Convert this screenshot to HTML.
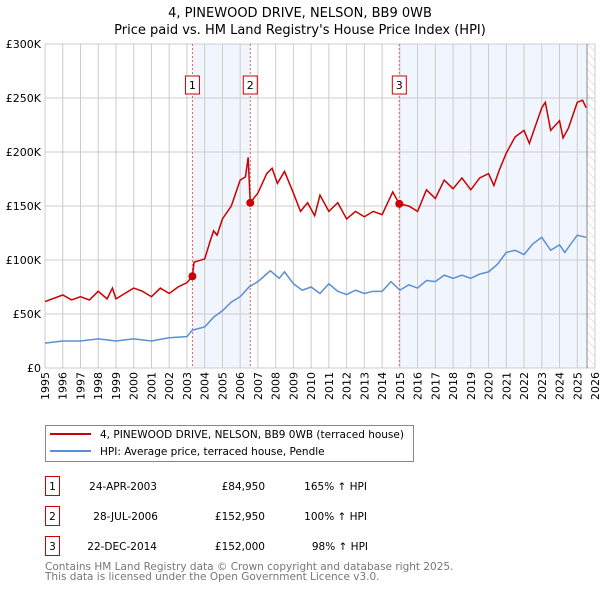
<!DOCTYPE html>
<html><head><meta charset="utf-8"><style>
body{margin:0;background:#fff;font-family:"Liberation Sans","DejaVu Sans",sans-serif;}
svg text{font-family:"DejaVu Sans","Liberation Sans",sans-serif;}
</style></head><body>
<svg id="chart" width="600" height="590" viewBox="0 0 600 590" xmlns="http://www.w3.org/2000/svg">
<defs><pattern id="hatch" width="6" height="6" patternUnits="userSpaceOnUse" patternTransform="rotate(-45)"><line x1="0" y1="0" x2="0" y2="6" stroke="#ccc" stroke-width="1"/></pattern></defs>
<text x="300" y="17" text-anchor="middle" font-size="13">4, PINEWOOD DRIVE, NELSON, BB9 0WB</text>
<text x="300" y="34" text-anchor="middle" font-size="13">Price paid vs. HM Land Registry's House Price Index (HPI)</text>
<g id="plot"></g>
<g>
<rect x="45.5" y="425.5" width="368" height="36" fill="#fff" stroke="#888"/>
<line x1="50" y1="434" x2="91" y2="434" stroke="#cc0000" stroke-width="2"/>
<text x="100" y="438" font-size="10.5">4, PINEWOOD DRIVE, NELSON, BB9 0WB (terraced house)</text>
<line x1="50" y1="451" x2="91" y2="451" stroke="#5b8fd4" stroke-width="2"/>
<text x="100" y="455" font-size="10.5">HPI: Average price, terraced house, Pendle</text>
</g>
<g font-size="10.5">
<rect x="45.5" y="476.5" width="14" height="19" fill="#fff" stroke="#cc0000"/><text x="52.5" y="490" text-anchor="middle">1</text>
<text x="157" y="490" text-anchor="end">24-APR-2003</text><text x="265" y="490" text-anchor="end">£84,950</text><text x="367" y="490" text-anchor="end">165% ↑ HPI</text>
<rect x="45.5" y="506.5" width="14" height="19" fill="#fff" stroke="#cc0000"/><text x="52.5" y="520" text-anchor="middle">2</text>
<text x="158" y="520" text-anchor="end">28-JUL-2006</text><text x="265" y="520" text-anchor="end">£152,950</text><text x="367" y="520" text-anchor="end">100% ↑ HPI</text>
<rect x="45.5" y="536.5" width="14" height="19" fill="#fff" stroke="#cc0000"/><text x="52.5" y="550" text-anchor="middle">3</text>
<text x="157" y="550" text-anchor="end">22-DEC-2014</text><text x="265" y="550" text-anchor="end">£152,000</text><text x="368" y="550" text-anchor="end">98% ↑ HPI</text>
</g>
<text x="45" y="570" font-size="10.5" fill="#777">Contains HM Land Registry data © Crown copyright and database right 2025.</text>
<text x="45" y="580" font-size="10.5" fill="#777">This data is licensed under the Open Government Licence v3.0.</text>
</svg>
<script>
const yearTicks=[1995,1996,1997,1998,1999,2000,2001,2002,2003,2004,2005,2006,2007,2008,2009,2010,2011,2012,2013,2014,2015,2016,2017,2018,2019,2020,2021,2022,2023,2024,2025,2026];
const valueTicks=[0,50000,100000,150000,200000,250000,300000];
const valueTickLabels=["£0","£50K","£100K","£150K","£200K","£250K","£300K"];
const hpiYears=[1995,1996,1997,1998,1999,2000,2001,2002,2003,2003.3,2004,2004.5,2005,2005.5,2006,2006.5,2007,2007.7,2008.2,2008.5,2009,2009.5,2010,2010.5,2011,2011.5,2012,2012.5,2013,2013.5,2014,2014.5,2015,2015.5,2016,2016.5,2017,2017.5,2018,2018.5,2019,2019.5,2020,2020.5,2021,2021.5,2022,2022.5,2023,2023.5,2024,2024.3,2024.6,2025,2025.5];
const hpiValues=[23000,25000,25000,27000,25000,27000,25000,28000,29000,35000,38000,47000,53000,61000,66000,75000,80000,90000,83000,89000,78000,72000,75000,69000,78000,71000,68000,72000,69000,71000,71000,80000,72000,77000,74000,81000,80000,86000,83000,86000,83000,87000,89000,96000,107000,109000,105000,115000,121000,109000,114000,107000,114000,123000,121000];
const priceYears=[1995,1996,1996.5,1997,1997.5,1998,1998.5,1998.8,1999,2000,2000.5,2001,2001.5,2002,2002.5,2003,2003.31,2003.4,2004,2004.3,2004.5,2004.7,2005,2005.5,2006,2006.3,2006.45,2006.57,2007,2007.5,2007.8,2008.1,2008.5,2009,2009.4,2009.8,2010.2,2010.5,2011,2011.5,2012,2012.5,2013,2013.5,2014,2014.6,2014.97,2015.5,2016,2016.5,2017,2017.5,2018,2018.5,2019,2019.5,2020,2020.3,2020.6,2021,2021.5,2022,2022.3,2023,2023.2,2023.5,2024,2024.2,2024.5,2025,2025.3,2025.5];
const priceValues=[61500,67600,63000,66000,63000,71000,64000,74000,64000,74000,71000,66000,74000,69000,75000,79000,84950,98000,101000,117000,127000,123000,138000,150000,174000,177000,195000,152950,162000,180000,185000,171000,182000,162000,145000,153000,141000,160000,145000,153000,138000,145000,140000,145000,142000,163000,152000,150000,145000,165000,157000,174000,166000,176000,165000,176000,180000,169000,183000,199000,214000,220000,208000,241000,246000,220000,229000,213000,222000,246000,248000,241000];
const saleYears=[2003.31,2006.57,2014.97];
const saleValues=[84950,152950,152000];
const saleLabels=["1","2","3"];

const X0=45,X1=595,Y0=368,Y1=44;
const xs=y=>X0+(y-1995)/(2026-1995)*(X1-X0);
const ys=v=>Y0-v/300000*(Y0-Y1);
const NS="http://www.w3.org/2000/svg";
const plot=document.getElementById('plot');
function mk(tag,attrs,parent){const e=document.createElementNS(NS,tag);for(const k in attrs)e.setAttribute(k,attrs[k]);(parent||plot).appendChild(e);return e;}
let r=mk('rect',{x:xs(saleYears[0]),y:Y1,width:xs(saleYears[1])-xs(saleYears[0]),height:Y0-Y1,fill:'#eef3fc',opacity:0.8});


r=mk('rect',{x:xs(saleYears[2]),y:Y1,width:xs(2025.55)-xs(saleYears[2]),height:Y0-Y1,fill:'#eef3fc',opacity:0.8});


r=mk('rect',{x:xs(2025.55),y:Y1,width:X1-xs(2025.55),height:Y0-Y1,fill:'url(#hatch)'});


yearTicks.forEach(y=>{const l=mk('line',{x1:xs(y),x2:xs(y),y1:Y1,y2:Y0,stroke:'#ccc','stroke-width':1});


const t=mk('text',{transform:`translate(${xs(y)+4},${Y0+4}) rotate(-90)`,'text-anchor':'end','font-size':11});t.textContent=y;

});
valueTicks.forEach((v,i)=>{const l=mk('line',{x1:X0,x2:X1,y1:ys(v),y2:ys(v),stroke:'#ccc','stroke-width':1});


const t=mk('text',{x:X0-4,y:ys(v)+4,'text-anchor':'end','font-size':11});t.textContent=valueTickLabels[i];

});
const ln=mk('line',{x1:xs(2025.55),x2:xs(2025.55),y1:Y1,y2:Y0,stroke:'#888','stroke-width':1});


saleYears.forEach((y,i)=>{const l=mk('line',{x1:xs(y),x2:xs(y),y1:Y1,y2:Y0,stroke:'#e06060','stroke-width':1,'stroke-dasharray':'2,2'});


const b=mk('rect',{x:xs(y)-7,y:76,width:14,height:18,fill:'#fff',stroke:'#cc0000'});


const t=mk('text',{x:xs(y),y:89,'text-anchor':'middle','font-size':11});t.textContent=saleLabels[i];

});
const hp=mk('polyline',{points:hpiYears.map((y,i)=>xs(y)+','+ys(hpiValues[i])).join(' '),fill:'none',stroke:'#5b8fd4','stroke-width':1.5});


const pp=mk('polyline',{points:priceYears.map((y,i)=>xs(y)+','+ys(priceValues[i])).join(' '),fill:'none',stroke:'#cc0000','stroke-width':1.5});


saleYears.forEach((y,i)=>{const c=mk('circle',{cx:xs(y),cy:ys(saleValues[i]),r:4,fill:'#cc0000'});

});
</script>
</body></html>
